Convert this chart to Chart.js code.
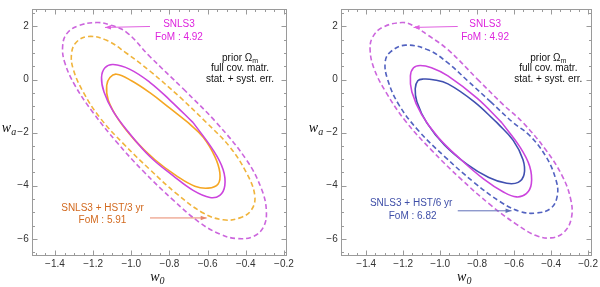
<!DOCTYPE html>
<html><head><meta charset="utf-8">
<script src="https://cdn.jsdelivr.net/npm/chart.js@4"></script>
<style>
html,body{margin:0;padding:0;background:#fff;width:600px;height:287px;overflow:hidden}
.p{position:absolute;top:0;width:300px;height:287px}
</style></head><body>
<div class="p" style="left:0"><canvas id="c1" width="300" height="287"></canvas></div>
<div class="p" style="left:300px"><canvas id="c2" width="300" height="287"></canvas></div>
<script>
// ---- tick labels ----
const xTicks = [-1.4, -1.2, -1.0, -0.8, -0.6, -0.4, -0.2];
const yTicks = [-6, -4, -2, 0, 2];

// ---- left panel: SNLS3 (magenta) vs SNLS3 + HST/3 yr (orange) ----
const snlsOuterL_w0 = [-1.182,-1.112,-1.025,-0.903,-0.728,-0.554,-0.397,-0.318,-0.292,-0.309,-0.362,-0.449,-0.536,-0.641,-0.780,-0.938,-1.077,-1.199,-1.295,-1.348,-1.360,-1.339,-1.278];
const snlsOuterL_wa = [2.146,2.061,1.781,0.869,-0.347,-1.623,-3.021,-4.116,-4.967,-5.575,-5.915,-5.988,-5.818,-5.392,-4.541,-3.447,-2.353,-1.258,-0.225,0.626,1.234,1.720,2.024];
const hst3Outer_w0 = [-1.225,-1.129,-1.025,-0.903,-0.746,-0.606,-0.484,-0.397,-0.353,-0.370,-0.431,-0.519,-0.623,-0.763,-0.903,-1.042,-1.164,-1.252,-1.304,-1.313,-1.287];
const hst3Outer_wa = [1.623,1.477,0.991,0.322,-0.650,-1.623,-2.535,-3.508,-4.359,-4.906,-5.210,-5.283,-5.027,-4.298,-3.386,-2.413,-1.441,-0.468,0.383,0.991,1.416];
const snlsInnerL_w0 = [-1.095,-1.007,-0.903,-0.798,-0.676,-0.571,-0.519,-0.510,-0.536,-0.588,-0.676,-0.780,-0.903,-1.007,-1.095,-1.143,-1.156,-1.138];
const snlsInnerL_wa = [0.565,0.383,-0.103,-0.772,-1.623,-2.657,-3.386,-3.994,-4.359,-4.444,-4.176,-3.629,-2.900,-2.049,-1.198,-0.468,0.079,0.444];
const hst3Inner_w0 = [-1.077,-0.999,-0.903,-0.798,-0.702,-0.623,-0.562,-0.536,-0.545,-0.597,-0.667,-0.763,-0.876,-0.981,-1.068,-1.121,-1.129,-1.112];
const hst3Inner_wa = [0.201,-0.043,-0.492,-1.076,-1.623,-2.170,-2.900,-3.508,-3.933,-4.091,-4.018,-3.629,-3.021,-2.292,-1.502,-0.772,-0.225,0.079];

// ---- right panel: SNLS3 (magenta) vs SNLS3 + HST/6 yr (blue) ----
const snlsOuterR_w0 = [-1.206,-1.144,-1.064,-0.958,-0.799,-0.658,-0.552,-0.428,-0.340,-0.295,-0.290,-0.331,-0.401,-0.481,-0.587,-0.728,-0.887,-1.047,-1.188,-1.294,-1.356,-1.379,-1.365,-1.312];
const snlsOuterR_wa = [2.146,2.024,1.660,1.125,0.018,-0.954,-1.623,-2.657,-3.629,-4.480,-5.210,-5.757,-5.964,-5.878,-5.453,-4.723,-3.751,-2.657,-1.562,-0.468,0.383,1.112,1.599,1.964];
const hst6Outer_w0 = [-1.188,-1.064,-0.958,-0.852,-0.728,-0.605,-0.516,-0.428,-0.375,-0.366,-0.401,-0.481,-0.569,-0.675,-0.817,-0.976,-1.117,-1.223,-1.285,-1.297,-1.267];
const hst6Outer_wa = [1.295,1.112,0.626,-0.043,-0.833,-1.623,-2.109,-2.900,-3.751,-4.359,-4.845,-5.027,-4.967,-4.602,-3.872,-2.900,-1.927,-0.954,0.018,0.687,1.052];
const snlsInnerR_w0 = [-1.108,-1.047,-0.958,-0.799,-0.667,-0.569,-0.516,-0.507,-0.534,-0.587,-0.658,-0.764,-0.887,-1.011,-1.100,-1.153,-1.161,-1.144];
const snlsInnerR_wa = [0.529,0.444,0.140,-0.711,-1.623,-2.535,-3.264,-3.933,-4.298,-4.420,-4.237,-3.751,-3.021,-2.170,-1.319,-0.468,0.140,0.444];
const hst6Inner_w0 = [-1.091,-1.038,-0.958,-0.817,-0.693,-0.605,-0.552,-0.546,-0.578,-0.640,-0.737,-0.852,-0.976,-1.073,-1.126,-1.135,-1.121];
const hst6Inner_wa = [0.018,-0.006,-0.164,-0.833,-1.623,-2.292,-3.021,-3.568,-3.872,-3.909,-3.690,-3.204,-2.474,-1.623,-0.833,-0.347,-0.043];

const MAG_S = '#cc44dd', MAG_D = '#cc66dd';
const ORA_S = '#f5a623', ORA_D = '#f0b43c';
const BLU_S = '#4050b0', BLU_D = '#5262c0';

function loop(w0, wa, start) {
  const pts = w0.map((x, i) => ({x: x, y: wa[i]}));
  return pts.slice(start).concat(pts.slice(0, start + 1));
}
function ds(w0, wa, color, dashed) {
  return {data: loop(w0, wa, 4), showLine: true, borderColor: color, borderWidth: 1.6,
    borderDash: dashed ? [5, 3] : [], pointRadius: 0, tension: 0.4, fill: false};
}
function fmtX(v) { return (v < 0 ? '\u2212' : '') + Math.abs(v).toFixed(1); }
function fmtY(v) { return (v < 0 ? '\u2212' : '') + Math.abs(v).toFixed(0); }

function subText(ctx, base, sub, cx, cy, size, italic, color) {
  ctx.save();
  ctx.fillStyle = color;
  ctx.textBaseline = 'middle';
  ctx.textAlign = 'left';
  const f1 = (italic ? 'italic ' : '') + size + 'px "Liberation Serif"';
  const f2 = (italic ? 'italic ' : '') + Math.round(size * 0.7) + 'px "Liberation Serif"';
  ctx.font = f1; const w1 = ctx.measureText(base).width;
  ctx.font = f2; const w2 = ctx.measureText(sub).width;
  const x0 = cx - (w1 + w2) / 2;
  ctx.font = f1; ctx.fillText(base, x0, cy);
  ctx.font = f2; ctx.fillText(sub, x0 + w1, cy + size * 0.3);
  ctx.restore();
}

function arrow(ctx, x1, y1, x2, y2, color) {
  ctx.save();
  ctx.strokeStyle = color; ctx.fillStyle = color; ctx.lineWidth = 1;
  ctx.beginPath(); ctx.moveTo(x1, y1); ctx.lineTo(x2, y2); ctx.stroke();
  const a = Math.atan2(y2 - y1, x2 - x1), L = 6, W = 2.2;
  ctx.beginPath();
  ctx.moveTo(x2, y2);
  ctx.lineTo(x2 - L * Math.cos(a) + W * Math.sin(a), y2 - L * Math.sin(a) - W * Math.cos(a));
  ctx.lineTo(x2 - L * Math.cos(a) - W * Math.sin(a), y2 - L * Math.sin(a) + W * Math.cos(a));
  ctx.closePath(); ctx.fill();
  ctx.restore();
}

function framePlugin(cfg) {
  return {
    id: 'frame' + cfg.id,
    afterDraw(chart) {
      const {ctx, chartArea: a, scales: {x, y}} = chart;
      ctx.save();
      ctx.strokeStyle = '#9a9a9a'; ctx.lineWidth = 1;
      const L = Math.round(a.left) + 0.5, R = Math.round(a.right) - 0.5;
      const T = Math.round(a.top) + 0.5, B = Math.round(a.bottom) - 0.5;
      ctx.strokeRect(L, T, R - L, B - T);
      ctx.beginPath();
      for (let k = -40; k <= 0; k++) {
        const v = k * 0.05;
        if (v < x.min || v > x.max) continue;
        const px = Math.round(x.getPixelForValue(v)) + 0.5;
        const len = (k % 4 === 0) ? 5 : 2.5;
        ctx.moveTo(px, B); ctx.lineTo(px, B - len);
        ctx.moveTo(px, T); ctx.lineTo(px, T + len);
      }
      for (let k = -16; k <= 6; k++) {
        const v = k * 0.5;
        if (v < y.min || v > y.max) continue;
        const py = Math.round(y.getPixelForValue(v)) + 0.5;
        const len = (k % 4 === 0) ? 5 : 2.5;
        ctx.moveTo(L, py); ctx.lineTo(L + len, py);
        ctx.moveTo(R, py); ctx.lineTo(R - len, py);
      }
      ctx.stroke();
      ctx.restore();

      // axis titles
      subText(ctx, 'w', '0', (a.left + a.right) / 2 - 2, 277, 14, true, '#111');
      subText(ctx, 'w', 'a', cfg.yTitleX, 128, 14, true, '#111');

      // annotations (positions in data units)
      const X = v => x.getPixelForValue(v), Y = v => y.getPixelForValue(v);
      ctx.save();
      ctx.textAlign = 'center'; ctx.textBaseline = 'middle';
      ctx.font = '10px "Liberation Sans"';
      ctx.fillStyle = '#dd22dd';
      ctx.fillText('SNLS3', X(cfg.snls.x), Y(2.083));
      ctx.fillText('FoM : 4.92', X(cfg.snls.x), Y(1.598));
      ctx.fillStyle = cfg.other.color;
      ctx.fillText(cfg.other.name, X(cfg.other.x1), Y(cfg.other.y1));
      ctx.fillText(cfg.other.fom, X(cfg.other.x2), Y(cfg.other.y2));
      ctx.fillStyle = '#111';
      ctx.fillText('full cov. matr.', X(cfg.prior.x), Y(0.420));
      ctx.fillText('stat. + syst. err.', X(cfg.prior.x), Y(-0.007));
      ctx.restore();
      // prior Ωm with subscript
      ctx.save();
      ctx.fillStyle = '#111'; ctx.textBaseline = 'middle';
      ctx.font = '10px "Liberation Sans"';
      const w1 = ctx.measureText('prior \u03a9').width;
      ctx.font = '7px "Liberation Sans"';
      const w2 = ctx.measureText('m').width;
      const x0 = X(cfg.prior.x) - (w1 + w2) / 2, yy = Y(0.806);
      ctx.font = '10px "Liberation Sans"'; ctx.textAlign = 'left';
      ctx.fillText('prior \u03a9', x0, yy);
      ctx.font = '7px "Liberation Sans"';
      ctx.fillText('m', x0 + w1, yy + 3);
      ctx.restore();

      arrow(ctx, X(cfg.snls.ax1), Y(1.999), X(cfg.snls.ax2), Y(1.963), '#e060e0');
      arrow(ctx, X(cfg.other.ax1), Y(cfg.other.ay), X(cfg.other.ax2), Y(cfg.other.ay), cfg.other.arrow);
    }
  };
}

function makeChart(id, datasets, xr, yWidth, padRight, cfg) {
  return new Chart(document.getElementById(id), {
    type: 'scatter',
    data: {datasets: datasets},
    options: {
      responsive: false, animation: false, devicePixelRatio: 1,
      layout: {padding: {top: 1, right: padRight, left: 0, bottom: 0}},
      plugins: {legend: {display: false}, tooltip: {enabled: false}},
      scales: {
        x: {type: 'linear', min: xr[0], max: xr[1],
          grid: {display: false, drawTicks: false}, border: {display: false},
          afterBuildTicks: s => { s.ticks = xTicks.map(v => ({value: v})); },
          afterFit: s => { s.height = 31; },
          ticks: {padding: 2, autoSkip: false, maxRotation: 0, color: '#333',
            font: {family: 'Liberation Sans', size: 10}, callback: v => fmtX(v)}},
        y: {type: 'linear', min: -6.646, max: 2.657,
          grid: {display: false, drawTicks: false}, border: {display: false},
          afterBuildTicks: s => { s.ticks = yTicks.map(v => ({value: v})); },
          afterFit: s => { s.width = yWidth; },
          ticks: {padding: 3, autoSkip: false, color: '#333',
            font: {family: 'Liberation Sans', size: 10}, callback: v => fmtY(v)}}
      }
    },
    plugins: [framePlugin(cfg)]
  });
}

makeChart('c1', [
  ds(snlsOuterL_w0, snlsOuterL_wa, MAG_D, true),
  ds(hst3Outer_w0, hst3Outer_wa, ORA_D, true),
  ds(snlsInnerL_w0, snlsInnerL_wa, MAG_S, false),
  ds(hst3Inner_w0, hst3Inner_wa, ORA_S, false)
], [-1.522, -0.184], 31.7, 13, {
  id: 'L', yTitleX: 9,
  snls: {x: -0.750, ax1: -0.902, ax2: -1.138},
  prior: {x: -0.430},
  other: {color: '#d2691e', arrow: '#e8866a', name: 'SNLS3 + HST/3 yr', fom: 'FoM : 5.91',
    x1: -1.151, y1: -4.849, x2: -1.151, y2: -5.308, ax1: -0.902, ax2: -0.605, ay: -5.213}
});

makeChart('c2', [
  ds(snlsOuterR_w0, snlsOuterR_wa, MAG_D, true),
  ds(hst6Outer_w0, hst6Outer_wa, BLU_D, true),
  ds(snlsInnerR_w0, snlsInnerR_wa, MAG_S, false),
  ds(hst6Inner_w0, hst6Inner_wa, BLU_S, false)
], [-1.538, -0.180], 40.7, 3.3, {
  id: 'R', yTitleX: 16,
  snls: {x: -0.757, ax1: -0.905, ax2: -1.144},
  prior: {x: -0.415},
  other: {color: '#3f4fa8', arrow: '#6070b8', name: 'SNLS3 + HST/6 yr', fom: 'FoM : 6.82',
    x1: -1.157, y1: -4.666, x2: -1.149, y2: -5.151, ax1: -0.905, ax2: -0.614, ay: -4.944}
});
</script>
</body></html>
